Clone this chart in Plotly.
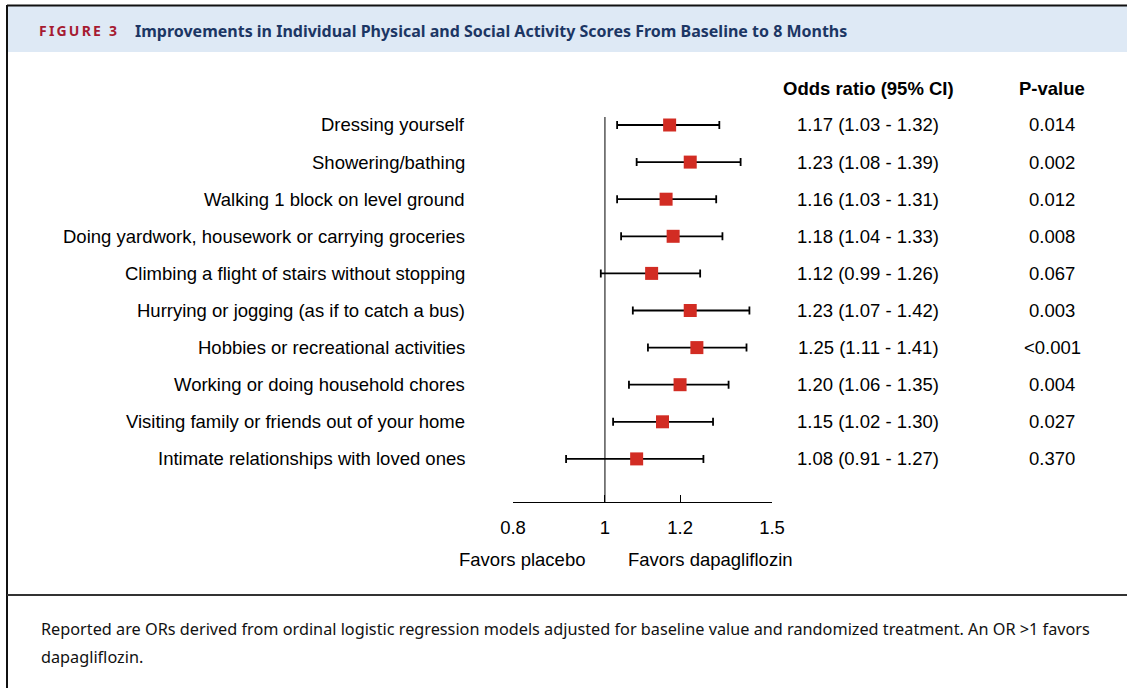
import math
import plotly.graph_objects as go

W, H = 1127, 688

activities = [
    "Dressing yourself",
    "Showering/bathing",
    "Walking 1 block on level ground",
    "Doing yardwork, housework or carrying groceries",
    "Climbing a flight of stairs without stopping",
    "Hurrying or jogging (as if to catch a bus)",
    "Hobbies or recreational activities",
    "Working or doing household chores",
    "Visiting family or friends out of your home",
    "Intimate relationships with loved ones",
]
odds_ratio = [1.17, 1.23, 1.16, 1.18, 1.12, 1.23, 1.25, 1.20, 1.15, 1.08]
ci_low = [1.03, 1.08, 1.03, 1.04, 0.99, 1.07, 1.11, 1.06, 1.02, 0.91]
ci_high = [1.32, 1.39, 1.31, 1.33, 1.26, 1.42, 1.41, 1.35, 1.30, 1.27]
p_values = ["0.014", "0.002", "0.012", "0.008", "0.067", "0.003", "<0.001", "0.004", "0.027", "0.370"]
tick_vals = [0.8, 1, 1.2, 1.5]
tick_text = ["0.8", "1", "1.2", "1.5"]

rows = list(range(len(activities)))

ARIAL = "Liberation Sans, Arial, sans-serif"
SANS = "Noto Sans, sans-serif"
FS = 18.5


def px(x):
    return x / W


def py(y):
    return 1 - y / H


row0, step = 125, 37.1
axis_y = 502
y_bottom = (axis_y - row0) / step
y_top = -0.5

fig = go.Figure()
fig.add_trace(go.Scatter(
    x=odds_ratio, y=rows, mode="markers",
    marker=dict(symbol="square", size=13, color="#D22C23", line=dict(width=0)),
    error_x=dict(type="data", symmetric=False,
                 array=[h - o for h, o in zip(ci_high, odds_ratio)],
                 arrayminus=[o - l for o, l in zip(odds_ratio, ci_low)],
                 color="black", thickness=1.8, width=4),
    cliponaxis=False, showlegend=False, hoverinfo="skip",
))

fig.update_layout(
    width=W, height=H, margin=dict(l=0, r=0, t=0, b=0, autoexpand=False),
    paper_bgcolor="white", plot_bgcolor="rgba(0,0,0,0)",
    font=dict(family=ARIAL, color="black", size=FS),
    xaxis=dict(type="log", range=[math.log10(0.8), math.log10(1.5)],
               domain=[px(513), px(772)], anchor="y", automargin=False,
               showgrid=False, zeroline=False, showline=True, linecolor="black", linewidth=1,
               ticks="inside", ticklen=7, tickwidth=1, tickcolor="black",
               tickvals=tick_vals, ticktext=tick_text, ticklabelstandoff=9,
               tickfont=dict(size=FS, family=ARIAL),
               fixedrange=True),
    yaxis=dict(range=[y_bottom, y_top], domain=[py(axis_y), py(row0 + y_top * step)],
               visible=False, fixedrange=True, automargin=False),
)

shapes = []
# header band
shapes.append(dict(type="rect", xref="paper", yref="paper", x0=px(8), x1=1, y0=py(52), y1=py(6),
                   fillcolor="#DEE9F5", line=dict(width=0), layer="below"))
# top rule
shapes.append(dict(type="line", xref="paper", yref="paper", x0=px(7), x1=1, y0=py(5.5), y1=py(5.5),
                   line=dict(color="#111111", width=2)))
# left border
shapes.append(dict(type="line", xref="paper", yref="paper", x0=px(7), x1=px(7), y0=py(5), y1=0,
                   line=dict(color="#111111", width=2)))
# separator above footer
shapes.append(dict(type="line", xref="paper", yref="paper", x0=px(7), x1=1, y0=py(595), y1=py(595),
                   line=dict(color="#333333", width=2)))
# reference line at OR = 1
shapes.append(dict(type="line", xref="x", yref="y", x0=1, x1=1, y0=y_bottom, y1=(117 - row0) / step,
                   line=dict(color="black", width=1)))
fig.update_layout(shapes=shapes)

ann = []
for i, name in enumerate(activities):
    ann.append(dict(x=px(467), y=i, xref="paper", yref="y", text=name, showarrow=False,
                    xanchor="right", yanchor="middle"))
    ann.append(dict(x=px(868), y=i, xref="paper", yref="y",
                    text=f"{odds_ratio[i]:.2f} ({ci_low[i]:.2f} - {ci_high[i]:.2f})",
                    showarrow=False, xanchor="center", yanchor="middle"))
    ann.append(dict(x=px(1052), y=i, xref="paper", yref="y", text=p_values[i], showarrow=False,
                    xanchor="center", yanchor="middle"))

ann.append(dict(x=px(868), y=py(88), xref="paper", yref="paper", text="<b>Odds ratio (95% CI)</b>",
                showarrow=False, xanchor="center", yanchor="middle"))
ann.append(dict(x=px(1052), y=py(88), xref="paper", yref="paper", text="<b>P-value</b>",
                showarrow=False, xanchor="center", yanchor="middle"))
ann.append(dict(x=px(522), y=py(559), xref="paper", yref="paper", text="Favors placebo",
                showarrow=False, xanchor="center", yanchor="middle"))
ann.append(dict(x=px(710), y=py(559), xref="paper", yref="paper", text="Favors dapagliflozin",
                showarrow=False, xanchor="center", yanchor="middle"))

# title
ann.append(dict(x=px(37), y=py(31), xref="paper", yref="paper",
                text="<b><span style='color:#A61B31;letter-spacing:2.2px'>FIGURE 3</span></b>",
                showarrow=False, xanchor="left", yanchor="middle",
                font=dict(size=14, family=SANS)))
ann.append(dict(x=px(133), y=py(31), xref="paper", yref="paper",
                text="<b>Improvements in Individual Physical and Social Activity Scores From Baseline to 8 Months</b>",
                showarrow=False, xanchor="left", yanchor="middle",
                font=dict(size=16, family=SANS, color="#1C3664")))
# footer
ann.append(dict(x=px(39), y=py(629), xref="paper", yref="paper",
                text="Reported are ORs derived from ordinal logistic regression models adjusted for baseline value and randomized treatment. An OR >1 favors",
                showarrow=False, xanchor="left", yanchor="middle",
                font=dict(size=16.25, family=SANS, color="#111111")))
ann.append(dict(x=px(39), y=py(657), xref="paper", yref="paper", text="dapagliflozin.",
                showarrow=False, xanchor="left", yanchor="middle",
                font=dict(size=16.25, family=SANS, color="#111111")))
fig.update_layout(annotations=ann)

fig.write_html("out.html", post_script="document.body.style.margin='0';",
               config=dict(displayModeBar=False))
